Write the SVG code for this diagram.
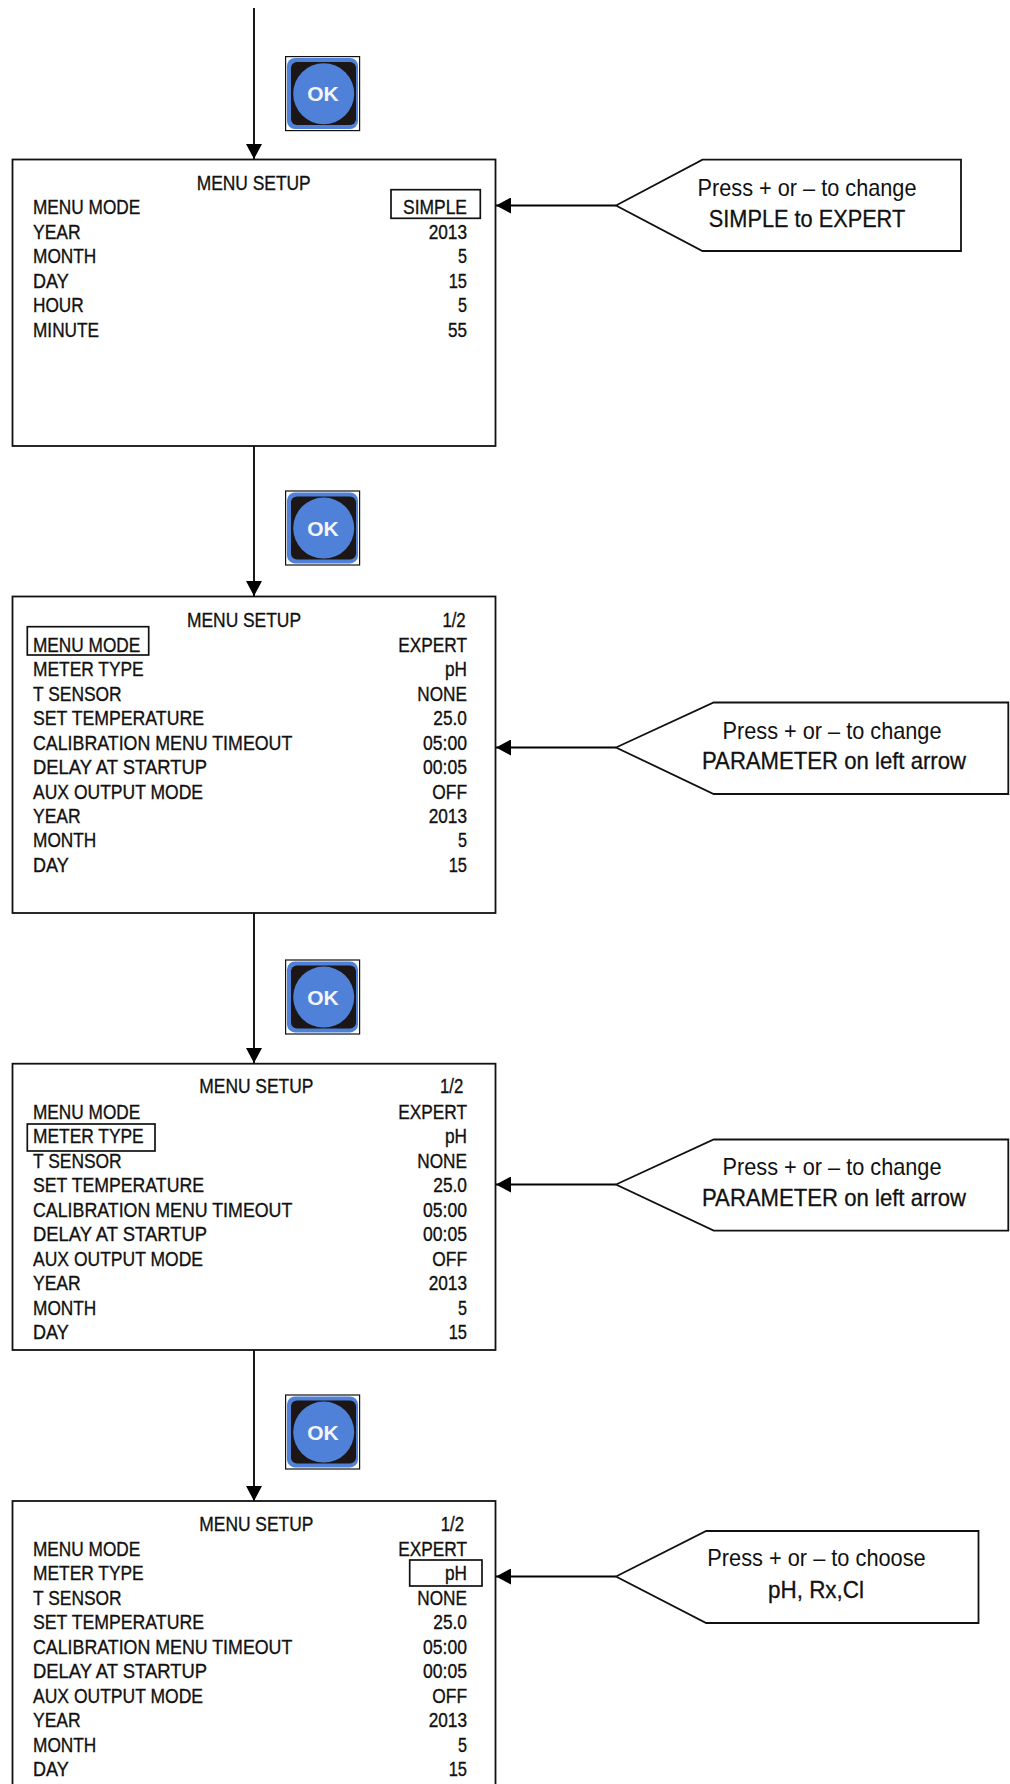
<svg xmlns="http://www.w3.org/2000/svg" width="1010" height="1784" viewBox="0 0 1010 1784">
<style>
.box{fill:#fff;stroke:#111;stroke-width:1.8}
.hl{fill:none;stroke:#111;stroke-width:1.7}
.call{fill:#fff;stroke:#111;stroke-width:1.8;stroke-linejoin:miter}
.wire{fill:none;stroke:#000;stroke-width:1.8}
.m{font-family:"Liberation Sans",Arial,sans-serif;font-size:20.5px;fill:#111;stroke:#111;stroke-width:.35}
.r{text-anchor:end}
.c{font-family:"Liberation Sans",Arial,sans-serif;font-size:24px;fill:#111;text-anchor:middle}
.b{stroke:#111;stroke-width:.3}
.ok{font-family:"Liberation Sans",Arial,sans-serif;font-weight:700;font-size:21px;fill:#f2f5fb;text-anchor:middle}
.f{fill:#fff;stroke:#111;stroke-width:1.2}
.bl{fill:#4f81d8;filter:url(#soft)}
.bk{fill:#1c1412;filter:url(#soft)}
</style>
<defs>
<filter id="soft" x="-5%" y="-5%" width="110%" height="110%"><feGaussianBlur stdDeviation=".6"/></filter>
<marker id="arr" markerUnits="userSpaceOnUse" markerWidth="16" markerHeight="16" refX="15" refY="8" orient="auto"><path d="M0 0L15 8L0 16Z" fill="#000"/></marker>
</defs>
<g id="connectors">
<path class="wire" d="M254 8V159" marker-end="url(#arr)"/>
<path class="wire" d="M254 446V596" marker-end="url(#arr)"/>
<path class="wire" d="M254 913V1063" marker-end="url(#arr)"/>
<path class="wire" d="M254 1350V1501" marker-end="url(#arr)"/>
<path class="wire" d="M616 205.5H496" marker-end="url(#arr)"/>
<path class="wire" d="M616 747.5H496" marker-end="url(#arr)"/>
<path class="wire" d="M616 1184.5H496" marker-end="url(#arr)"/>
<path class="wire" d="M616 1576.5H496" marker-end="url(#arr)"/>
</g>
<g id="ok1"><rect class="f" x="285.6" y="56.6" width="74" height="74"/><rect class="bl" x="287" y="58" width="71" height="71" rx="8"/><rect class="bk" x="291" y="62" width="65" height="63" rx="6"/><circle class="bl" cx="323.7" cy="93.7" r="30.5"/><text class="ok" x="323" y="101.4">OK</text></g>
<g id="ok2"><rect class="f" x="285.6" y="491" width="74" height="74"/><rect class="bl" x="287" y="492.4" width="71" height="71" rx="8"/><rect class="bk" x="291" y="496.4" width="65" height="63" rx="6"/><circle class="bl" cx="323.7" cy="528.1" r="30.5"/><text class="ok" x="323" y="535.8">OK</text></g>
<g id="ok3"><rect class="f" x="285.6" y="960" width="74" height="74"/><rect class="bl" x="287" y="961.4" width="71" height="71" rx="8"/><rect class="bk" x="291" y="965.4" width="65" height="63" rx="6"/><circle class="bl" cx="323.7" cy="997.1" r="30.5"/><text class="ok" x="323" y="1004.8">OK</text></g>
<g id="ok4"><rect class="f" x="285.6" y="1395" width="74" height="74"/><rect class="bl" x="287" y="1396.4" width="71" height="71" rx="8"/><rect class="bk" x="291" y="1400.4" width="65" height="63" rx="6"/><circle class="bl" cx="323.7" cy="1432.1" r="30.5"/><text class="ok" x="323" y="1439.8">OK</text></g>
<g id="screen1"><rect class="box" x="12.5" y="159.5" width="483" height="286.5"/>
<rect class="hl" x="391" y="189.7" width="89.3" height="28.6"/>
<g class="m"><text lengthAdjust="spacingAndGlyphs" textLength="114" x="196.7" y="190">MENU SETUP</text>
<text lengthAdjust="spacingAndGlyphs" textLength="107.3" x="33" y="213.7">MENU MODE</text><text lengthAdjust="spacingAndGlyphs" textLength="47.7" x="33" y="238.7">YEAR</text><text lengthAdjust="spacingAndGlyphs" textLength="63.3" x="33" y="263">MONTH</text><text lengthAdjust="spacingAndGlyphs" textLength="35.7" x="33" y="287.7">DAY</text><text lengthAdjust="spacingAndGlyphs" textLength="50.7" x="33" y="312">HOUR</text><text lengthAdjust="spacingAndGlyphs" textLength="66" x="33" y="337">MINUTE</text>
<text lengthAdjust="spacingAndGlyphs" textLength="64" class="r" x="467" y="213.7">SIMPLE</text><text lengthAdjust="spacingAndGlyphs" textLength="38.3" class="r" x="467" y="238.7">2013</text><text lengthAdjust="spacingAndGlyphs" textLength="9" class="r" x="467" y="263">5</text><text lengthAdjust="spacingAndGlyphs" textLength="18.3" class="r" x="467" y="287.7">15</text><text lengthAdjust="spacingAndGlyphs" textLength="9" class="r" x="467" y="312">5</text><text lengthAdjust="spacingAndGlyphs" textLength="19" class="r" x="467" y="337">55</text></g></g>
<g id="screen2"><rect class="box" x="12.5" y="596.5" width="483" height="316.5"/>
<rect class="hl" x="27.3" y="626.7" width="121.4" height="28.3"/>
<g class="m"><text lengthAdjust="spacingAndGlyphs" textLength="114" x="187" y="626.7">MENU SETUP</text><text lengthAdjust="spacingAndGlyphs" textLength="23.3" class="r" x="465.7" y="626.7">1/2</text>
<text lengthAdjust="spacingAndGlyphs" textLength="107.3" x="33" y="652">MENU MODE</text><text lengthAdjust="spacingAndGlyphs" textLength="110.7" x="33" y="676">METER TYPE</text><text lengthAdjust="spacingAndGlyphs" textLength="88.7" x="33" y="700.7">T SENSOR</text><text lengthAdjust="spacingAndGlyphs" textLength="171" x="33" y="725">SET TEMPERATURE</text><text lengthAdjust="spacingAndGlyphs" textLength="259.3" x="33" y="749.7">CALIBRATION MENU TIMEOUT</text><text lengthAdjust="spacingAndGlyphs" textLength="174" x="33" y="773.7">DELAY AT STARTUP</text><text lengthAdjust="spacingAndGlyphs" textLength="170" x="33" y="798.7">AUX OUTPUT MODE</text><text lengthAdjust="spacingAndGlyphs" textLength="47.7" x="33" y="822.7">YEAR</text><text lengthAdjust="spacingAndGlyphs" textLength="63.3" x="33" y="847">MONTH</text><text lengthAdjust="spacingAndGlyphs" textLength="35.7" x="33" y="871.7">DAY</text>
<text lengthAdjust="spacingAndGlyphs" textLength="68.7" class="r" x="467" y="652">EXPERT</text><text lengthAdjust="spacingAndGlyphs" textLength="22" class="r" x="467" y="676">pH</text><text lengthAdjust="spacingAndGlyphs" textLength="49.7" class="r" x="467" y="700.7">NONE</text><text lengthAdjust="spacingAndGlyphs" textLength="33.7" class="r" x="467" y="725">25.0</text><text lengthAdjust="spacingAndGlyphs" textLength="44" class="r" x="467" y="749.7">05:00</text><text lengthAdjust="spacingAndGlyphs" textLength="44" class="r" x="467" y="773.7">00:05</text><text lengthAdjust="spacingAndGlyphs" textLength="34.7" class="r" x="467" y="798.7">OFF</text><text lengthAdjust="spacingAndGlyphs" textLength="38.3" class="r" x="467" y="822.7">2013</text><text lengthAdjust="spacingAndGlyphs" textLength="9" class="r" x="467" y="847">5</text><text lengthAdjust="spacingAndGlyphs" textLength="18.3" class="r" x="467" y="871.7">15</text></g></g>
<g id="screen3"><rect class="box" x="12.5" y="1063.7" width="483" height="286.3"/>
<rect class="hl" x="27.3" y="1124" width="127.7" height="27"/>
<g class="m"><text lengthAdjust="spacingAndGlyphs" textLength="114" x="199.3" y="1093.3">MENU SETUP</text><text lengthAdjust="spacingAndGlyphs" textLength="23.3" class="r" x="463.3" y="1093.3">1/2</text>
<text lengthAdjust="spacingAndGlyphs" textLength="107.3" x="33" y="1118.7">MENU MODE</text><text lengthAdjust="spacingAndGlyphs" textLength="110.7" x="33" y="1142.7">METER TYPE</text><text lengthAdjust="spacingAndGlyphs" textLength="88.7" x="33" y="1167.7">T SENSOR</text><text lengthAdjust="spacingAndGlyphs" textLength="171" x="33" y="1192">SET TEMPERATURE</text><text lengthAdjust="spacingAndGlyphs" textLength="259.3" x="33" y="1216.7">CALIBRATION MENU TIMEOUT</text><text lengthAdjust="spacingAndGlyphs" textLength="174" x="33" y="1240.7">DELAY AT STARTUP</text><text lengthAdjust="spacingAndGlyphs" textLength="170" x="33" y="1265.7">AUX OUTPUT MODE</text><text lengthAdjust="spacingAndGlyphs" textLength="47.7" x="33" y="1289.7">YEAR</text><text lengthAdjust="spacingAndGlyphs" textLength="63.3" x="33" y="1314.7">MONTH</text><text lengthAdjust="spacingAndGlyphs" textLength="35.7" x="33" y="1338.7">DAY</text>
<text lengthAdjust="spacingAndGlyphs" textLength="68.7" class="r" x="467" y="1118.7">EXPERT</text><text lengthAdjust="spacingAndGlyphs" textLength="22" class="r" x="467" y="1142.7">pH</text><text lengthAdjust="spacingAndGlyphs" textLength="49.7" class="r" x="467" y="1167.7">NONE</text><text lengthAdjust="spacingAndGlyphs" textLength="33.7" class="r" x="467" y="1192">25.0</text><text lengthAdjust="spacingAndGlyphs" textLength="44" class="r" x="467" y="1216.7">05:00</text><text lengthAdjust="spacingAndGlyphs" textLength="44" class="r" x="467" y="1240.7">00:05</text><text lengthAdjust="spacingAndGlyphs" textLength="34.7" class="r" x="467" y="1265.7">OFF</text><text lengthAdjust="spacingAndGlyphs" textLength="38.3" class="r" x="467" y="1289.7">2013</text><text lengthAdjust="spacingAndGlyphs" textLength="9" class="r" x="467" y="1314.7">5</text><text lengthAdjust="spacingAndGlyphs" textLength="18.3" class="r" x="467" y="1338.7">15</text></g></g>
<g id="screen4"><rect class="box" x="12.5" y="1501" width="483" height="290"/>
<rect class="hl" x="409.7" y="1560" width="72.3" height="26"/>
<g class="m"><text lengthAdjust="spacingAndGlyphs" textLength="114" x="199.3" y="1530.7">MENU SETUP</text><text lengthAdjust="spacingAndGlyphs" textLength="23.3" class="r" x="464" y="1530.7">1/2</text>
<text lengthAdjust="spacingAndGlyphs" textLength="107.3" x="33" y="1556">MENU MODE</text><text lengthAdjust="spacingAndGlyphs" textLength="110.7" x="33" y="1580">METER TYPE</text><text lengthAdjust="spacingAndGlyphs" textLength="88.7" x="33" y="1605">T SENSOR</text><text lengthAdjust="spacingAndGlyphs" textLength="171" x="33" y="1629">SET TEMPERATURE</text><text lengthAdjust="spacingAndGlyphs" textLength="259.3" x="33" y="1653.7">CALIBRATION MENU TIMEOUT</text><text lengthAdjust="spacingAndGlyphs" textLength="174" x="33" y="1678">DELAY AT STARTUP</text><text lengthAdjust="spacingAndGlyphs" textLength="170" x="33" y="1702.7">AUX OUTPUT MODE</text><text lengthAdjust="spacingAndGlyphs" textLength="47.7" x="33" y="1727">YEAR</text><text lengthAdjust="spacingAndGlyphs" textLength="63.3" x="33" y="1751.7">MONTH</text><text lengthAdjust="spacingAndGlyphs" textLength="35.7" x="33" y="1776">DAY</text>
<text lengthAdjust="spacingAndGlyphs" textLength="68.7" class="r" x="467" y="1556">EXPERT</text><text lengthAdjust="spacingAndGlyphs" textLength="22" class="r" x="467" y="1580">pH</text><text lengthAdjust="spacingAndGlyphs" textLength="49.7" class="r" x="467" y="1605">NONE</text><text lengthAdjust="spacingAndGlyphs" textLength="33.7" class="r" x="467" y="1629">25.0</text><text lengthAdjust="spacingAndGlyphs" textLength="44" class="r" x="467" y="1653.7">05:00</text><text lengthAdjust="spacingAndGlyphs" textLength="44" class="r" x="467" y="1678">00:05</text><text lengthAdjust="spacingAndGlyphs" textLength="34.7" class="r" x="467" y="1702.7">OFF</text><text lengthAdjust="spacingAndGlyphs" textLength="38.3" class="r" x="467" y="1727">2013</text><text lengthAdjust="spacingAndGlyphs" textLength="9" class="r" x="467" y="1751.7">5</text><text lengthAdjust="spacingAndGlyphs" textLength="18.3" class="r" x="467" y="1776">15</text></g></g>
<g id="note1"><path class="call" d="M616 205.5L702.5 159.6H961V251H702.5Z"/><text class="c" lengthAdjust="spacingAndGlyphs" textLength="219" x="807" y="195.5">Press + or – to change</text><text class="c b" lengthAdjust="spacingAndGlyphs" textLength="196.4" x="807" y="226.5">SIMPLE to EXPERT</text></g>
<g id="note2"><path class="call" d="M616 747.5L713.7 702.5H1008.3V794H713.7Z"/><text class="c" lengthAdjust="spacingAndGlyphs" textLength="219" x="832" y="738.5">Press + or – to change</text><text class="c b" lengthAdjust="spacingAndGlyphs" textLength="264" x="834" y="769">PARAMETER on left arrow</text></g>
<g id="note3"><path class="call" d="M616 1184.5L713.7 1139.5H1008.3V1230.6H713.7Z"/><text class="c" lengthAdjust="spacingAndGlyphs" textLength="219" x="832" y="1175.2">Press + or – to change</text><text class="c b" lengthAdjust="spacingAndGlyphs" textLength="264" x="834" y="1206.4">PARAMETER on left arrow</text></g>
<g id="note4"><path class="call" d="M616 1576.5L706.2 1531H978.5V1623H706.2Z"/><text class="c" lengthAdjust="spacingAndGlyphs" textLength="218.4" x="816.5" y="1566.2">Press + or – to choose</text><text class="c b" lengthAdjust="spacingAndGlyphs" textLength="96" x="816" y="1598">pH, Rx,Cl</text></g>
</svg>
